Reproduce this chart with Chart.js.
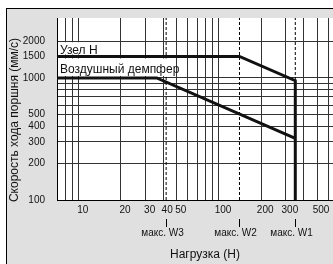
<!DOCTYPE html>
<html>
<head>
<meta charset="utf-8">
<script src="https://cdn.jsdelivr.net/npm/chart.js@4"></script>
<style>
  html, body { margin: 0; padding: 0; background: #fff; }
  #wrap { width: 333px; height: 264px; }
</style>
</head>
<body>
<div id="wrap"><canvas id="speedChart"></canvas></div>
<script>
// speed limit lines (load N -> piston speed mm/s)
const loadUnitH = [7, 140, 350, 350];
const speedUnitH = [1500, 1500, 950, 100];
const loadDamper = [7, 36, 350];
const speedDamper = [1000, 1000, 320];

// max allowed loads, dashed markers
const maxLoads = [42, 140, 350];
const maxLoadNames = ['макс. W3', 'макс. W2', 'макс. W1'];

// grid / ticks
const xGrid = [7, 8, 9, 10, 20, 30, 40, 50, 60, 70, 80, 90, 100, 200, 300, 400, 500, 600];
const xTickLabels = [10, 20, 30, 40, 50, 100, 200, 300, 500];
const yGrid = [100, 200, 300, 400, 500, 600, 700, 800, 900, 1000, 1500, 2000];
const yTickLabels = [100, 200, 300, 400, 500, 1000, 1500, 2000];

const textFont = '"Liberation Sans", Arial, sans-serif';
const tickFont = '"Liberation Sans Narrow", "Arial Narrow", "Liberation Sans", Arial, sans-serif';

const toPoints = (xs, ys) => xs.map((x, i) => ({ x: x, y: ys[i] }));

const backdrop = {
  id: 'backdrop',
  beforeDraw(chart) {
    const { ctx, chartArea: a, width, height } = chart;
    ctx.save();
    ctx.fillStyle = '#fff';
    ctx.fillRect(0, 0, width, height);
    ctx.fillStyle = '#e0e0e0';
    ctx.fillRect(6, 8, width - 6, height - 8);
    ctx.fillStyle = '#fff';
    ctx.fillRect(a.left, a.top, a.right - a.left, a.bottom - a.top);
    ctx.restore();
  },
  afterDatasetsDraw(chart) {
    // white boxes behind the series names (hide grid under the text)
    const { ctx, chartArea: a, scales: { y } } = chart;
    ctx.save();
    ctx.fillStyle = '#fff';
    const y2000 = y.getPixelForValue(2000), y1500 = y.getPixelForValue(1500), y1000 = y.getPixelForValue(1000);
    ctx.fillRect(a.left + 1, y2000 + 1, 48, y1500 - y2000 - 3);
    ctx.fillRect(a.left + 1, y1500 + 2, 118, y1000 - y1500 - 4);
    ctx.fillStyle = '#111';
    ctx.font = '12px ' + textFont;
    ctx.textAlign = 'left';
    ctx.textBaseline = 'alphabetic';
    ctx.fillText('Узел H', a.left + 3, y1500 - 2);
    ctx.fillText('Воздушный демпфер', a.left + 3, y1000 - 5);
    ctx.restore();
  },
  afterDraw(chart) {
    const { ctx, width, height, scales: { x } } = chart;
    ctx.save();
    ctx.strokeStyle = '#000';
    ctx.lineWidth = 1;
    ctx.beginPath();
    ctx.moveTo(6, 8.5); ctx.lineTo(width, 8.5);
    ctx.moveTo(6.5, 8); ctx.lineTo(6.5, height);
    ctx.stroke();

    ctx.fillStyle = '#111';
    // axis titles
    ctx.font = '12px ' + textFont;
    ctx.textAlign = 'center';
    ctx.textBaseline = 'alphabetic';
    ctx.fillText('Нагрузка (Н)', 205, 258);
    ctx.save();
    ctx.translate(14.5, 120);
    ctx.rotate(-Math.PI / 2);
    ctx.textBaseline = 'middle';
    ctx.fillText('Скорость хода поршня (мм/с)', 0, 0);
    ctx.restore();

    // max load markers under the axis
    ctx.font = '10px ' + textFont;
    maxLoads.forEach((w, i) => {
      const px = Math.round(x.getPixelForValue(w)) + 0.5;
      ctx.beginPath();
      ctx.moveTo(px, 219); ctx.lineTo(px, 227);
      ctx.stroke();
      ctx.fillText(maxLoadNames[i], px - 4, 236);
    });
    ctx.restore();
  }
};

const datasets = [
  { data: toPoints(loadUnitH, speedUnitH), borderColor: '#111', borderWidth: 3 },
  { data: toPoints(loadDamper, speedDamper), borderColor: '#111', borderWidth: 3 }
];
maxLoads.forEach(w => {
  datasets.push({
    data: [{ x: w, y: 100 }, { x: w, y: 3100 }],
    borderColor: '#000', borderWidth: 1, borderDash: [3, 2]
  });
});
datasets.forEach(d => { d.showLine = true; d.pointRadius = 0; d.fill = false; });

new Chart(document.getElementById('speedChart'), {
  type: 'scatter',
  data: { datasets: datasets },
  options: {
    responsive: true,
    maintainAspectRatio: false,
    animation: false,
    layout: { padding: { top: 8, right: 0, left: 0, bottom: 0 } },
    plugins: { legend: { display: false }, tooltip: { enabled: false } },
    scales: {
      x: {
        type: 'logarithmic',
        min: 7,
        max: 650,
        afterBuildTicks: s => { s.ticks = xGrid.map(v => ({ value: v })); },
        afterFit: s => { s.height = 64; },
        grid: { color: '#333', lineWidth: 1, drawTicks: false },
        border: { color: '#000', width: 1 },
        ticks: {
          autoSkip: false, maxRotation: 0, padding: 4, labelOffset: 4,
          color: '#111', font: { family: tickFont, size: 10 },
          callback: v => xTickLabels.includes(v) ? String(v) : ''
        }
      },
      y: {
        type: 'logarithmic',
        min: 100,
        max: 3100,
        afterBuildTicks: s => { s.ticks = yGrid.map(v => ({ value: v })); },
        afterFit: s => { s.width = 57; },
        grid: {
          color: c => (c.tick && c.tick.value === 1500) ? 'rgba(0,0,0,0)' : '#333',
          lineWidth: 1, drawTicks: false
        },
        border: { color: '#000', width: 1 },
        ticks: {
          autoSkip: false, padding: 12,
          color: '#111', font: { family: tickFont, size: 10 },
          callback: v => yTickLabels.includes(v) ? String(v) : ''
        }
      }
    }
  },
  plugins: [backdrop]
});
</script>
</body>
</html>
